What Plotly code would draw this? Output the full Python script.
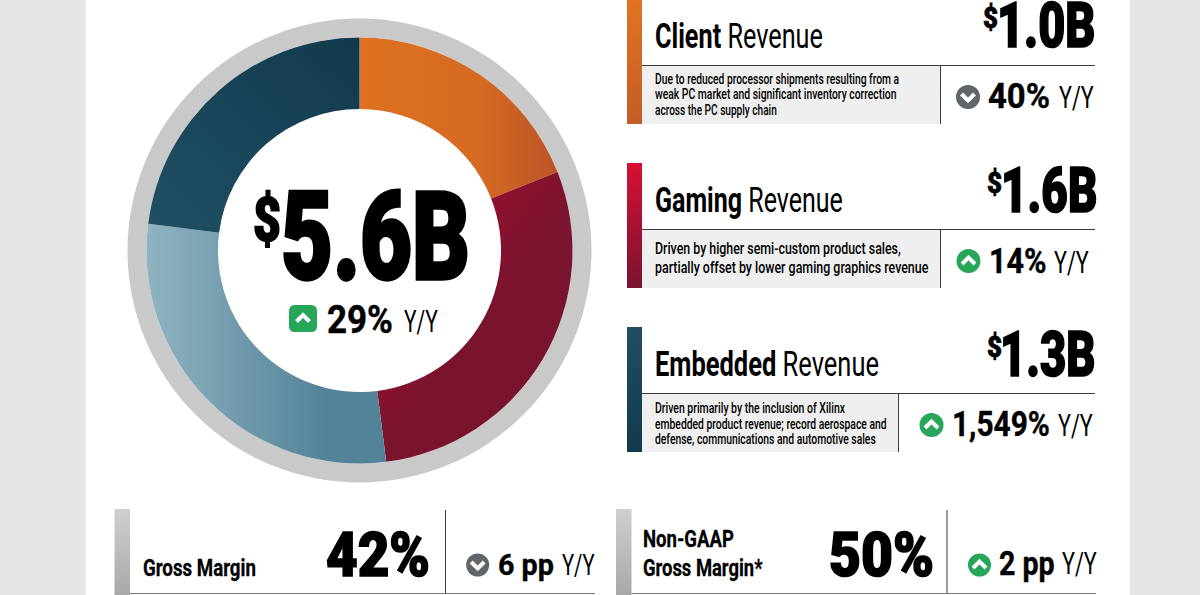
import json
import plotly.graph_objects as go

# revenue split (percent of total)
segments = ["Client", "Gaming", "Data Center", "Embedded"]
shares = [19, 29, 29, 23]

total_value = "5.6B"
total_change = "29%"

card_names = ["Client", "Gaming", "Embedded"]
card_values = ["1.0B", "1.6B", "1.3B"]
card_changes = ["40%", "14%", "1,549%"]
card_up = [False, True, True]
card_notes = [
    ["Due to reduced processor shipments resulting from a",
     "weak PC market and significant inventory correction",
     "across the PC supply chain"],
    ["Driven by higher semi-custom product sales,",
     "partially offset by lower gaming graphics revenue"],
    ["Driven primarily by the inclusion of Xilinx",
     "embedded product revenue; record aerospace and",
     "defense, communications and automotive sales"],
]

margin_names = [["Gross Margin"], ["Non-GAAP", "Gross Margin*"]]
margin_values = ["42%", "50%"]
margin_changes = ["6 pp", "2 pp"]
margin_up = [False, True]

FONT = "Roboto"
INK = "#000000"
GREEN = "#27a558"
SLATE = "#5f6568"

W, H = 1200, 595
CX, CY, R = 359.5, 250.5, 213

# gradient for each ring slice: x1, y1, x2, y2, then stops
slice_gradients = [
    [0, 0, 1, 0, [[0, "#dd7120"], [0.6, "#d66a22"], [1, "#bb5427"]]],
    [0.1, 0, 0.55, 0.5, [[0, "#ae0f30"], [1, "#7a132d"]]],
    [0, 0, 0.75, 0, [[0, "#8fb3c1"], [1, "#538398"]]],
    [1, 0, 0, 1, [[0, "#113a4c"], [1, "#205064"]]],
]

fig = go.Figure()
shapes = []
notes = []
squeeze = []  # target pixel width for each annotation
heavy = []  # extra stroke for each annotation, the installed faces are too light


def text(x, base, s, size, width, weight=400):
    # base is the text baseline in pixels, x the left edge
    notes.append(dict(
        x=x, y=base + 0.25 * size, xref="x", yref="y", text=s,
        xanchor="left", yanchor="bottom", showarrow=False, align="left",
        font=dict(family=FONT, size=size, color=INK, weight=weight),
        borderpad=0,
    ))
    squeeze.append(width)
    heavy.append(size * {900: 0.027, 700: 0.012}.get(weight, 0))


def rect(x0, y0, x1, y1, color):
    shapes.append(dict(type="rect", x0=x0, y0=y0, x1=x1, y1=y1, layer="below",
                       fillcolor=color, line_width=0))


def line(x0, y0, x1, y1, color="#3c3c3c"):
    shapes.append(dict(type="line", x0=x0, y0=y0, x1=x1, y1=y1,
                       line=dict(color=color, width=1)))


def chevron(cx, cy, up):
    d = -1 if up else 1
    shapes.append(dict(
        type="path", line=dict(color="white", width=4),
        path="M %f %f L %f %f L %f %f" % (cx - 6.5, cy - 3 * d, cx, cy + 3.5 * d, cx + 6.5, cy - 3 * d),
    ))


def badge(cx, cy, up, r=12):
    shapes.append(dict(type="circle", x0=cx - r, x1=cx + r, y0=cy - r, y1=cy + r,
                       fillcolor=GREEN if up else SLATE, line_width=0))
    chevron(cx, cy, up)


def accent(x0, x1, y0, y1, top, bottom):
    fig.add_trace(go.Scatter(
        x=[x0, x1, x1, x0, x0], y=[y0, y0, y1, y1, y0], mode="lines", fill="toself",
        line=dict(width=0), hoverinfo="skip", showlegend=False,
        fillgradient=dict(type="vertical", colorscale=[[0, bottom], [1, top]]),
    ))


# page background and panel
rect(0, 0, W, H, "#e5e5e5")
rect(85.5, 0, 1130, H, "#ffffff")

# ring
shapes.append(dict(type="circle", x0=CX - 232, x1=CX + 232, y0=CY - 232, y1=CY + 232,
                   layer="below", fillcolor="#c9c9c9", line_width=0))
shapes.append(dict(type="circle", x0=CX - R, x1=CX + R, y0=CY - R, y1=CY + R,
                   layer="below", fillcolor="#ffffff", line_width=0))
fig.add_trace(go.Pie(
    labels=segments, values=shares, hole=141.5 / R, sort=False, direction="clockwise",
    rotation=0, textinfo="none", showlegend=False,
    marker=dict(colors=["#d66a22", "#7a132d", "#6a97aa", "#164153"], line=dict(width=0)),
    domain=dict(x=[(CX - R) / W, (CX + R) / W], y=[(H - CY - R) / H, (H - CY + R) / H]),
))

# centre total
text(251.5, 241, "$", 62, 28, 900)
text(279.5, 279.5, total_value, 122, 189, 900)
shapes.append(dict(
    type="path", fillcolor=GREEN, line_width=0,
    path="M 295 305 L 311 305 Q 317 305 317 311 L 317 326 Q 317 332 311 332 "
         "L 295 332 Q 289 332 289 326 L 289 311 Q 289 305 295 305 Z",
))
chevron(303, 318.5, True)
text(325.5, 333, total_change, 38, 66, 700)
text(402.5, 333, "Y/Y", 31, 34)

# revenue cards
tops = [0, 163, 327]
bars = [("#e07422", "#c45c27"), ("#d81034", "#7a132f"), ("#1f4e63", "#123a4c")]
rules = [65.5, 229.5, 393.5]
bottoms = [124, 288, 452]
splits = [940.5, 940.5, 898.5]
title_base = [49.5, 213.5, 377.5]
title_width = [168, 188, 224]
value_base = [47, 212, 376]
value_x = [996, 1000, 998.5]
value_width = [98.5, 96.5, 95.5]
dollar_x = [982, 986, 986]
note_first = [84.5, 254.5, 413.5]
note_step = [15.5, 19.5, 15.5]
note_size = [14, 16, 14]
note_width = [[244.5, 241.7, 122], [246, 274], [190, 232, 221]]
icon_x = [968, 968.5, 931.5]
icon_y = [97, 261, 425]
change_base = [109.5, 274, 437.5]
change_x = [987, 988, 950.6]
change_width = [62, 57.5, 98]
yy_x = [1057.7, 1053, 1056.7]

for i, name in enumerate(card_names):
    accent(627, 642, tops[i], bottoms[i], bars[i][0], bars[i][1])
    rect(642, rules[i], splits[i], bottoms[i], "#efefef")
    line(642, rules[i], 1095, rules[i])
    line(splits[i], rules[i], splits[i], bottoms[i])
    text(654, title_base[i], "<b>%s</b> Revenue" % name, 35, title_width[i])
    text(value_x[i], value_base[i], card_values[i], 63, value_width[i], 900)
    text(dollar_x[i], value_base[i] - 18.5, "$", 29, 15, 900)
    for j, note in enumerate(card_notes[i]):
        text(654, note_first[i] + j * note_step[i], note, note_size[i], note_width[i][j], 500)
    badge(icon_x[i], icon_y[i], card_up[i])
    text(change_x[i], change_base[i], card_changes[i], 35, change_width[i], 700)
    text(yy_x[i], change_base[i], "Y/Y", 31, 35)

# margin cards
m_bar = [114.5, 616]
m_end = [595, 1096]
m_split = [445.5, 947]
m_name_x = [141.7, 642.3]
m_name_width = [[113], [91, 119.7]]
m_value_x = [325, 827.5]
m_value_width = [104, 105]
m_icon_x = [477.7, 979.5]
m_change_x = [497.3, 998]
m_change_size = [29, 34]
m_change_width = [56, 55.7]
m_yy_x = [560.7, 1060.7]
m_yy_size = [29, 31]
m_yy_width = [33, 35]

for i, value in enumerate(margin_values):
    accent(m_bar[i], m_bar[i] + 15.5, 509, H, "#cfcfcf", "#a8a8a8")
    line(m_bar[i] + 15.5, 593.5, m_end[i], 593.5, "#777777")
    line(m_split[i], 510, m_split[i], 593.5)
    names = margin_names[i]
    for j, name in enumerate(names):
        text(m_name_x[i], 577 - 29 * (len(names) - 1 - j), name, 24, m_name_width[i][j], 700)
    text(m_value_x[i], 577, value, 61, m_value_width[i], 900)
    badge(m_icon_x[i], 565, margin_up[i], 11.5)
    text(m_change_x[i], 575.5, margin_changes[i], m_change_size[i], m_change_width[i], 700)
    text(m_yy_x[i], 575.5, "Y/Y", m_yy_size[i], m_yy_width[i])

fig.update_layout(
    width=W, height=H, margin=dict(l=0, r=0, t=0, b=0),
    paper_bgcolor="#ffffff", plot_bgcolor="rgba(0,0,0,0)", showlegend=False,
    xaxis=dict(range=[0, W], visible=False, fixedrange=True),
    yaxis=dict(range=[H, 0], visible=False, fixedrange=True),
    shapes=shapes, annotations=notes,
)

# pie slices only take flat colours, and no condensed face is installed,
# so ring gradients and text squeeze go on after drawing
post = """
document.body.style.margin = '0';
var grads = %s;
var widths = %s;
var strokes = %s;
var svg = document.querySelector('.main-svg');
var ns = 'http://www.w3.org/2000/svg';
var defs = svg.querySelector('defs');
document.querySelectorAll('.pielayer .slice path.surface').forEach(function (p, i) {
    var g = grads[i];
    var lg = document.createElementNS(ns, 'linearGradient');
    lg.setAttribute('id', 'ring' + i);
    ['x1', 'y1', 'x2', 'y2'].forEach(function (k, j) { lg.setAttribute(k, g[j]); });
    g[4].forEach(function (s) {
        var st = document.createElementNS(ns, 'stop');
        st.setAttribute('offset', s[0]);
        st.setAttribute('stop-color', s[1]);
        lg.appendChild(st);
    });
    defs.appendChild(lg);
    p.style.fill = 'url(#ring' + i + ')';
});
document.querySelectorAll('.annotation').forEach(function (a) {
    var i = +a.getAttribute('data-index');
    var t = a.querySelector('text');
    var b = t.getBBox();
    var sx = widths[i] / b.width;
    t.setAttribute('transform', 'translate(' + b.x + ',0) scale(' + sx + ',1) translate(' + (-b.x) + ',0)');
    if (strokes[i] > 0) {
        t.style.stroke = '#000000';
        t.style.strokeWidth = strokes[i] + 'px';
    }
});
""" % (json.dumps(slice_gradients), json.dumps(squeeze), json.dumps(heavy))

fig.write_html("out.html", post_script=post, config=dict(displayModeBar=False))
